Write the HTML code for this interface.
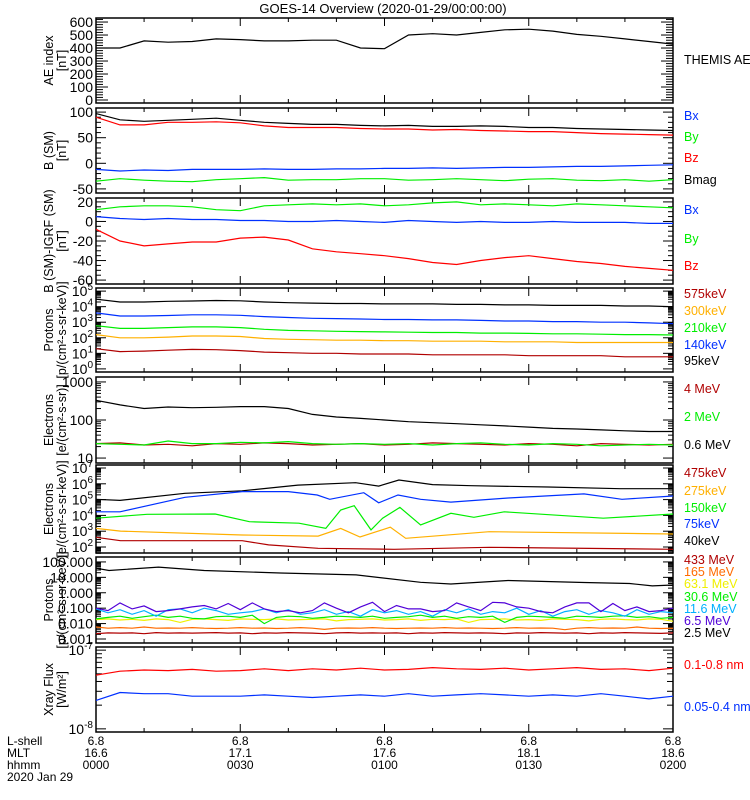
<!DOCTYPE html>
<html><head><meta charset="utf-8"><style>
html,body{margin:0;padding:0;background:#fff;overflow:hidden;width:750px;height:800px}
svg{display:block;font-family:"Liberation Sans",sans-serif}
</style></head><body>
<svg id="chart" width="750" height="800" viewBox="0 0 750 800" xmlns="http://www.w3.org/2000/svg">
<text x="383" y="13" font-size="13" text-anchor="middle">GOES-14 Overview (2020-01-29/00:00:00)</text>
<g id="g"></g>
</svg>
<script>
// ---- data (time in minutes since 00:00) ----
const aeVals=[400,400,455,445,450,470,465,455,455,460,460,400,395,500,510,500,520,540,545,530,505,490,470,450,430];
const bMag=[97,85,82,84,86,88,84,80,78,76,76,74,73,74,72,72,73,72,70,70,68,67,66,65,64];
const bZ=[90,75,75,80,80,81,79,73,70,70,70,68,67,67,65,66,64,63,62,62,60,58,57,56,55];
const bX=[-12,-15,-13,-14,-12,-12,-12,-11,-12,-12,-11,-11,-10,-10,-9,-10,-9,-8,-8,-7,-6,-6,-5,-4,-3];
const bY=[-35,-30,-33,-35,-36,-32,-30,-28,-33,-32,-32,-30,-30,-33,-32,-30,-32,-34,-31,-30,-33,-34,-32,-35,-32];
const dZ=[-8,-20,-25,-23,-21,-21,-17,-16,-19,-28,-31,-33,-35,-38,-42,-44,-40,-37,-35,-38,-41,-43,-46,-48,-50];
const dY=[12,15,16,16,15,12,11,16,17,18,17,18,16,17,19,20,17,18,17,16,18,17,16,15,14];
const dX=[5,3,2,3,2,2,1,1,0,0,1,0,-1,1,0,-1,0,-1,-1,0,-1,-1,-1,-2,-2];
const p95=[3e4,2e4,2e4,2.2e4,2.3e4,2.5e4,2.4e4,2e4,1.8e4,1.7e4,1.6e4,1.6e4,1.5e4,1.5e4,1.5e4,1.4e4,1.4e4,1.3e4,1.3e4,1.2e4,1.2e4,1.2e4,1.1e4,1.1e4,1e4];
const p140=[4e3,2.5e3,2.5e3,2.7e3,3e3,3e3,2.8e3,2.3e3,2e3,1.8e3,1.7e3,1.6e3,1.5e3,1.5e3,1.4e3,1.4e3,1.3e3,1.2e3,1.2e3,1.1e3,1.1e3,1e3,1e3,900,800];
const p210=[600,400,400,450,500,500,450,350,300,280,260,250,240,230,220,220,200,200,190,180,180,170,160,160,150];
const p300=[160,100,100,110,130,130,120,90,80,75,70,70,65,65,60,60,60,55,55,55,50,50,50,50,50];
const p575=[20,13,14,16,18,17,15,12,11,10,10,9,9,9,8,8,8,8,7,7,7,7,6,6,6];
const e06=[330,250,200,220,210,215,225,225,200,140,120,110,100,90,85,80,75,70,65,60,58,55,52,50,50];
const e4=[24,25,22,23,21,24,23,25,24,22,23,24,22,23,25,24,23,22,24,23,21,24,23,22,23];
const e2=[24,23,22,28,24,24,26,25,27,24,23,24,23,24,22,24,25,23,22,24,23,21,22,23,22];
const e40T=[0,5,18.5,30.4,42,54,58.8,63,70,78,94,109,120];
const e40=[1.05e5,8.9e4,2.5e5,3.6e5,8.3e5,1.17e6,7.2e5,1.74e6,8.9e5,7.6e5,6.3e5,4.9e5,4.9e5];
const e75T=[0,5,18.5,30.4,40,46,48.6,55.7,58.8,62.8,67.5,73.8,85.7,101.5,109.4,120];
const e75=[1.7e4,1.7e4,1.4e5,3.2e5,3.2e5,1.95e5,1.05e5,2.75e5,6.3e4,1.95e5,1.05e5,6.9e4,1.26e5,2.3e5,1.05e5,1.7e5];
const e150T=[0,10.6,24.8,31.9,42.2,47.8,50.9,53.7,57.2,59.6,63.2,67.5,73.8,78.6,84.9,105.5,120];
const e150=[6.6e3,1.17e4,1.23e4,4e3,3.2e3,1.5e3,2.2e4,4.1e4,1.2e3,6.6e3,3.2e4,2.5e3,1.35e4,7.6e3,1.7e4,6.6e3,1.23e4];
const e275T=[0,5.1,30.4,46.2,50.9,54.9,61.2,64.4,81.8,120];
const e275=[1500,1020,575,490,1500,430,1780,355,930,660];
const e475T=[0,5.1,30.4,35.9,46.2,62,81.8,120];
const e475=[410,250,250,135,83,71,95,71];
const q25T=[0,2.7,13,22.5,38.3,54.1,67.5,73.8,85.7,101.5,111,115.7,120];
const q25=[39,28,46,28,19,14.5,4.8,3.7,6.2,4.6,4,2.8,3.2];
const q65=[0.10,0.07,0.22,0.09,0.14,0.06,0.07,0.09,0.12,0.15,0.09,0.20,0.08,0.22,0.09,0.06,0.07,0.05,0.07,0.22,0.10,0.05,0.12,0.24,0.06,0.15,0.09,0.09,0.06,0.07,0.22,0.12,0.07,0.24,0.22,0.12,0.10,0.06,0.05,0.12,0.22,0.22,0.06,0.20,0.07,0.12,0.06,0.07,0.10];
const q116=[0.09,0.05,0.08,0.04,0.07,0.03,0.08,0.09,0.05,0.10,0.07,0.04,0.05,0.06,0.09,0.05,0.08,0.04,0.05,0.08,0.04,0.06,0.03,0.08,0.05,0.07,0.04,0.06,0.03,0.08,0.05,0.09,0.04,0.06,0.05,0.10,0.04,0.07,0.03,0.06,0.08,0.04,0.07,0.05,0.03,0.08,0.04,0.06,0.05];
const q306=[0.02,0.025,0.03,0.022,0.028,0.035,0.025,0.03,0.022,0.02,0.028,0.03,0.025,0.035,0.01,0.025,0.03,0.028,0.022,0.025,0.03,0.028,0.025,0.03,0.022,0.025,0.028,0.035,0.025,0.03,0.022,0.028,0.025,0.03,0.012,0.025,0.03,0.028,0.025,0.022,0.03,0.028,0.025,0.03,0.032,0.025,0.028,0.022,0.025];
const q631=[0.018,0.02,0.017,0.019,0.016,0.02,0.018,0.012,0.019,0.02,0.018,0.016,0.02,0.019,0.018,0.02,0.017,0.018,0.019,0.02,0.015,0.018,0.019,0.02,0.017,0.018,0.02,0.016,0.019,0.018,0.02,0.012,0.018,0.019,0.02,0.017,0.018,0.016,0.02,0.019,0.018,0.015,0.019,0.02,0.018,0.017,0.02,0.019,0.014];
const q165=[0.006,0.005,0.0055,0.005,0.006,0.005,0.0052,0.005,0.0055,0.005,0.0048,0.005,0.0055,0.005,0.0052,0.0048,0.005,0.0055,0.005,0.0042,0.005,0.0052,0.005,0.0055,0.005,0.0048,0.005,0.0052,0.005,0.0055,0.005,0.0052,0.005,0.0048,0.005,0.0055,0.005,0.0052,0.005,0.004,0.005,0.0055,0.005,0.0052,0.005,0.006,0.005,0.0048,0.005];
const q433=[0.0022,0.0025,0.0024,0.0025,0.0022,0.0026,0.0024,0.0025,0.0024,0.0025,0.0026,0.0024,0.0025,0.0022,0.0025,0.0024,0.0026,0.0025,0.0024,0.0022,0.0025,0.0026,0.0024,0.0025,0.0024,0.0025,0.0022,0.0025,0.0024,0.0026,0.0025,0.0024,0.0025,0.0024,0.0022,0.0025,0.0024,0.0026,0.0025,0.0024,0.0025,0.0022,0.0025,0.0024,0.0026,0.0025,0.0024,0.0023,0.0025];
const xLong=[4.8e-8,5.4e-8,5.6e-8,5.5e-8,5.7e-8,5.4e-8,5.5e-8,5.8e-8,5.5e-8,5.8e-8,5.6e-8,5.9e-8,5.6e-8,5.7e-8,6.0e-8,5.8e-8,5.7e-8,5.9e-8,5.6e-8,5.8e-8,6.0e-8,5.7e-8,5.8e-8,5.5e-8,5.9e-8];
const xShort=[2.3e-8,2.9e-8,2.8e-8,2.8e-8,2.6e-8,2.6e-8,2.6e-8,2.7e-8,2.6e-8,2.5e-8,2.6e-8,2.7e-8,2.6e-8,2.8e-8,2.6e-8,2.7e-8,2.8e-8,2.7e-8,2.6e-8,2.7e-8,2.6e-8,2.8e-8,2.6e-8,2.4e-8,2.6e-8];
// tick labels
const xTickLshell=["6.8","6.8","6.8","6.8","6.8"];
const xTickMLT=["16.6","17.1","17.6","18.1","18.6"];
const xTickHHMM=["0000","0030","0100","0130","0200"];
const aeTicks=[0,100,200,300,400,500,600];
const bTicks=[-50,0,50,100];
const dTicks=[-60,-40,-20,0,20];
const p1Exp=[0,1,2,3,4,5];
const e1Ticks=[10,100,1000];
const e2Exp=[2,3,4,5,6,7];
const p2Ticks=["0.001","0.010","0.100","1.000","10.000","100.000"];
const xrExp=[-8,-7];

const NS="http://www.w3.org/2000/svg";
const G=document.getElementById('g');
const L=96,R=673;
const X=t=>L+t*(R-L)/120;
function mk(tag,attrs,parent){const e=document.createElementNS(NS,tag);for(const k in attrs)e.setAttribute(k,attrs[k]);(parent||G).appendChild(e);return e;}
const panels=[
 {name:'ae',top:18,bot:103,log:false,min:-23,max:631},
 {name:'b-sm',top:108,bot:193,log:false,min:-58,max:108},
 {name:'b-igrf',top:198,bot:284,log:false,min:-64,max:24},
 {name:'protons-low',top:288,bot:372,log:true,min:-0.2,max:5.2},
 {name:'electrons-high',top:377,bot:463,log:true,min:0.87,max:3.13},
 {name:'electrons-low',top:465,bot:553,log:true,min:1.62,max:7.19},
 {name:'protons-high',top:557,bot:643,log:true,min:-3.26,max:2.32},
 {name:'xray',top:647,bot:732,log:true,min:-8.04,max:-6.96}
];
panels.forEach(p=>{p.Y=v=>{const u=p.log?Math.log10(v):v;return p.bot-(u-p.min)/(p.max-p.min)*(p.bot-p.top);};});
function frame(p){
 const r=mk('rect',{x:L,y:p.top,width:R-L,height:p.bot-p.top,fill:'none',stroke:'#000','stroke-width':1.5});
 
 
 for(let t=0;t<=120;t+=10){const len=(t%30===0)?8:4;
  mk('line',{x1:X(t),x2:X(t),y1:p.bot,y2:p.bot-len,stroke:'#000'});
  mk('line',{x1:X(t),x2:X(t),y1:p.top,y2:p.top+len,stroke:'#000'});}
}
function ytick(p,v,len){const y=p.Y(v);if(y<p.top-0.5||y>p.bot+0.5)return;
 mk('line',{x1:L,x2:L+len,y1:y,y2:y,stroke:'#000'});mk('line',{x1:R,x2:R-len,y1:y,y2:y,stroke:'#000'});}
function ylab(p,v,txt,sup,name){const t=mk('text',{x:L-3,y:p.Y(v)+5,'font-size':14,'text-anchor':'end'});
 
 
 t.textContent=txt;if(sup!==undefined){const s=mk('tspan',{dy:-6,'font-size':10},t);s.textContent=sup;}}
function series(p,ts,vals,color,name){
 const n=vals.length;const pts=vals.map((v,i)=>{const t=ts?ts[i]:i*120/(n-1);return X(t).toFixed(1)+','+p.Y(v).toFixed(1);});
 const pl=mk('polyline',{points:pts.join(' '),fill:'none',stroke:color,'stroke-width':1.2});
 
 
}
function axisTitle(p,l1,l2,name){const cy=(p.top+p.bot)/2;
 const t1=mk('text',{x:0,y:0,'font-size':12.5,'text-anchor':'middle',transform:`translate(53,${cy}) rotate(-90)`});
 
 
 t1.textContent=l1;
 const t2=mk('text',{x:0,y:0,'font-size':12.5,'text-anchor':'middle',transform:`translate(66,${cy}) rotate(-90)`});
 
 
 t2.textContent=l2;}
function legend(y,txt,color,name){const t=mk('text',{x:684,y:y,'font-size':12.5,fill:color});
 
 
 t.textContent=txt;}
function logMinors(p,lo,hi,len){for(let d=lo;d<=hi;d++)for(let k=1;k<10;k++)ytick(p,k*Math.pow(10,d),k===1?10:len);}
const C={dr:'#b00000',or:'#ffb000',gr:'#00ee00',bl:'#0030ff',rd:'#ff0000',k:'#000',or2:'#ff6a00',ye:'#f0f000',cy:'#00b0ff',pu:'#5000d8'};

// Panel 1 AE
let p=panels[0];frame(p);
for(let v=0;v<=620;v+=20)ytick(p,v,v%100===0?12:7);
aeTicks.forEach(v=>ylab(p,v,String(v),undefined,'ae-tick-label'));
series(p,null,aeVals,C.k,'ae-index-line');
axisTitle(p,'AE index','[nT]','ae');legend(64,'THEMIS AE',C.k,'legend-themis-ae');
// Panel 2 B
p=panels[1];frame(p);
for(let v=-50;v<=100;v+=10)ytick(p,v,v%50===0?10:5);
bTicks.forEach(v=>ylab(p,v,String(v),undefined,'b-tick-label'));
series(p,null,bMag,C.k,'bmag-line');series(p,null,bZ,C.rd,'bz-line');series(p,null,bX,C.bl,'bx-line');series(p,null,bY,C.gr,'by-line');
axisTitle(p,'B (SM)','[nT]','b-sm');
legend(120,'Bx',C.bl,'legend-bx');legend(141,'By',C.gr,'legend-by');legend(162,'Bz',C.rd,'legend-bz');legend(184,'Bmag',C.k,'legend-bmag');
// Panel 3 B-IGRF
p=panels[2];frame(p);
for(let v=-60;v<=20;v+=5)ytick(p,v,v%20===0?10:5);
dTicks.forEach(v=>ylab(p,v,String(v),undefined,'b-igrf-tick-label'));
series(p,null,dZ,C.rd,'dbz-line');series(p,null,dY,C.gr,'dby-line');series(p,null,dX,C.bl,'dbx-line');
axisTitle(p,'B (SM)-IGRF (SM)','[nT]','b-igrf');
legend(214,'Bx',C.bl,'legend-dbx');legend(243,'By',C.gr,'legend-dby');legend(270,'Bz',C.rd,'legend-dbz');
// Panel 4 protons low
p=panels[3];frame(p);logMinors(p,0,5,5);
p1Exp.forEach(e=>ylab(p,Math.pow(10,e),'10',String(e),'protons-tick-label'));
series(p,null,p95,C.k,'p95-line');series(p,null,p140,C.bl,'p140-line');series(p,null,p210,C.gr,'p210-line');series(p,null,p300,C.or,'p300-line');series(p,null,p575,C.dr,'p575-line');
axisTitle(p,'Protons','[p/(cm²-s-sr-keV)]','protons-low');
legend(298,'575keV',C.dr,'legend-575kev');legend(315,'300keV',C.or,'legend-300kev');legend(332,'210keV',C.gr,'legend-210kev');legend(349,'140keV',C.bl,'legend-140kev');legend(365,'95keV',C.k,'legend-95kev');
// Panel 5 electrons high
p=panels[4];frame(p);logMinors(p,1,2,5);ytick(p,1000,10);
e1Ticks.forEach(v=>ylab(p,v,String(v),undefined,'electrons-high-tick-label'));
series(p,null,e06,C.k,'e06-line');series(p,null,e4,C.dr,'e4-line');series(p,null,e2,C.gr,'e2-line');
axisTitle(p,'Electrons','[e/(cm²-s-sr)]','electrons-high');
legend(393,'4 MeV',C.dr,'legend-4mev');legend(421,'2 MeV',C.gr,'legend-2mev');legend(449,'0.6 MeV',C.k,'legend-06mev');
// Panel 6 electrons low
p=panels[5];frame(p);logMinors(p,1,7,5);
e2Exp.forEach(e=>ylab(p,Math.pow(10,e),'10',String(e),'electrons-low-tick-label'));
series(p,e40T,e40,C.k,'e40-line');series(p,e75T,e75,C.bl,'e75-line');series(p,e150T,e150,C.gr,'e150-line');series(p,e275T,e275,C.or,'e275-line');series(p,e475T,e475,C.dr,'e475-line');
axisTitle(p,'Electrons','[e/(cm²-s-sr-keV)]','electrons-low');
legend(477,'475keV',C.dr,'legend-475kev');legend(495,'275keV',C.or,'legend-275kev');legend(512,'150keV',C.gr,'legend-150kev');legend(528,'75keV',C.bl,'legend-75kev');legend(545,'40keV',C.k,'legend-40kev');
// Panel 7 protons high
p=panels[6];frame(p);logMinors(p,-3,1,5);ytick(p,100,10);
p2Ticks.forEach(s=>ylab(p,parseFloat(s),s,undefined,'protons-high-tick-label'));
series(p,q25T,q25,C.k,'q25-line');series(p,null,q433,C.dr,'q433-line');series(p,null,q165,C.or2,'q165-line');series(p,null,q631,C.ye,'q631-line');series(p,null,q306,C.gr,'q306-line');series(p,null,q116,C.cy,'q116-line');series(p,null,q65,C.pu,'q65-line');
axisTitle(p,'Protons','[p/(cm²-s-sr-keV)]','protons-high');
legend(564,'433 MeV',C.dr,'legend-433mev');legend(576,'165 MeV',C.or2,'legend-165mev');legend(588,'63.1 MeV',C.ye,'legend-631mev');legend(601,'30.6 MeV',C.gr,'legend-306mev');legend(613,'11.6 MeV',C.cy,'legend-116mev');legend(625,'6.5 MeV',C.pu,'legend-65mev');legend(637,'2.5 MeV',C.k,'legend-25mev');
// Panel 8 xray
p=panels[7];frame(p);logMinors(p,-8,-8,6);ytick(p,1e-7,10);
xrExp.forEach(e=>ylab(p,Math.pow(10,e),'10',String(e),'xray-tick-label'));
series(p,null,xLong,C.rd,'xray-long-line');series(p,null,xShort,C.bl,'xray-short-line');
axisTitle(p,'Xray Flux','[W/m²]','xray');
legend(669,'0.1-0.8 nm',C.rd,'legend-xray-long');legend(711,'0.05-0.4 nm',C.bl,'legend-xray-short');
// x axis labels
[xTickLshell,xTickMLT,xTickHHMM].forEach((arr,row)=>arr.forEach((s,i)=>{
 const t=mk('text',{x:X(i*30),y:745+row*12,'font-size':12,'text-anchor':'middle'});
 
 
 t.textContent=s;}));
["L-shell","MLT","hhmm","2020 Jan 29"].forEach((s,i)=>{
 const t=mk('text',{x:7,y:745+i*12,'font-size':12});
 
 
 t.textContent=s;});
</script>
</body></html>
